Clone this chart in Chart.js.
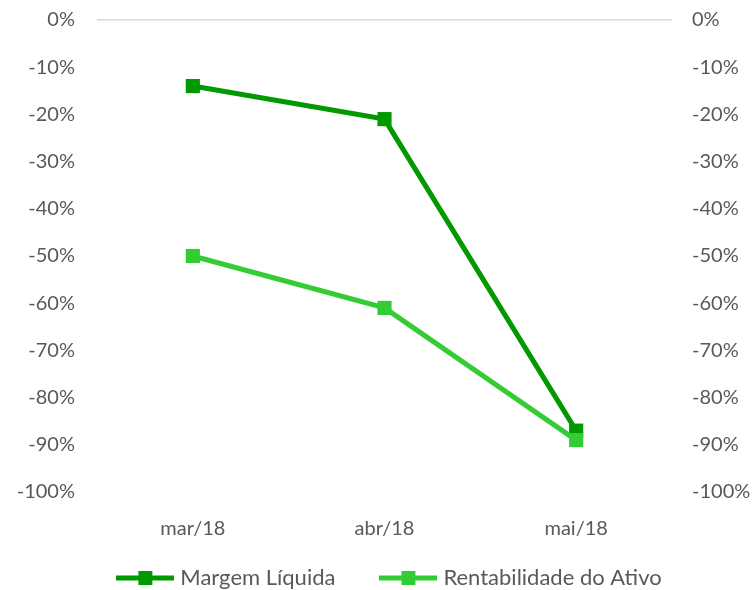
<!DOCTYPE html>
<html>
<head>
<meta charset="utf-8">
<script src="https://cdn.jsdelivr.net/npm/chart.js@4"></script>
<style>
  html, body { margin: 0; padding: 0; background: #fff; }
  #wrap { width: 753px; height: 590px; }
</style>
</head>
<body>
<div id="wrap"><canvas id="line-chart"></canvas></div>
<script>
const categories = ["mar/18", "abr/18", "mai/18"];
const margemLiquida = [-14, -21, -87];
const rentabilidadeAtivo = [-50, -61, -89];
const seriesNames = ["Margem Líquida", "Rentabilidade do Ativo"];
const seriesColors = ["#009900", "#33cc33"];

const textColor = "#595959";
const font = { family: "Lato, 'Open Sans', sans-serif", size: 20 };
const legendFont = { family: "Lato, 'Open Sans', sans-serif", size: 22 };

// legend icon: a short line with a square in the middle
const makeIcon = (color) => {
  const c = document.createElement("canvas");
  c.width = 58;
  c.height = 16;
  const ctx = c.getContext("2d");
  ctx.fillStyle = color;
  ctx.fillRect(0, 5.5, 58, 5);
  ctx.fillRect(22, 1, 14, 14);
  return c;
};

// move the legend a bit, like the original
const legendShift = {
  id: "legendShift",
  afterLayout(chart) {
    const lg = chart.legend;
    lg.left += 15;
    lg.right += 15;
    lg.top = 518;
  },
};

const pctTick = (v) => v + "%";

const yFit = (w) => (scale) => {
  scale.width = w;
  scale.paddingTop = 0;
  scale.paddingBottom = 0;
};

new Chart(document.getElementById("line-chart"), {
  type: "line",
  data: {
    labels: categories,
    datasets: [
      {
        label: seriesNames[0],
        data: margemLiquida,
        borderColor: seriesColors[0],
        backgroundColor: seriesColors[0],
        borderWidth: 5,
        pointStyle: "rect",
        pointRadius: 10,
        pointHoverRadius: 10,
        pointBorderWidth: 0,
        order: 1,
      },
      {
        label: seriesNames[1],
        data: rentabilidadeAtivo,
        borderColor: seriesColors[1],
        backgroundColor: seriesColors[1],
        borderWidth: 5,
        pointStyle: "rect",
        pointRadius: 10,
        pointHoverRadius: 10,
        pointBorderWidth: 0,
        order: 0,
      },
    ],
  },
  options: {
    responsive: true,
    maintainAspectRatio: false,
    animation: false,
    layout: { padding: { top: 20, left: 0, right: 0, bottom: 0 } },
    plugins: {
      tooltip: { enabled: false },
      legend: {
        position: "bottom",
        maxHeight: 50,
        labels: {
          usePointStyle: true,
          pointStyleWidth: 48,
          padding: 49,
          color: textColor,
          font: legendFont,
          generateLabels: (chart) =>
            chart.data.datasets.map((ds, i) => ({
              text: ds.label,
              pointStyle: makeIcon(seriesColors[i]),
              fontColor: textColor,
              lineWidth: 0,
              datasetIndex: i,
              hidden: false,
            })),
        },
      },
    },
    scales: {
      x: {
        offset: true,
        grid: { display: false, offset: true },
        border: { display: false },
        ticks: { color: textColor, font: font, padding: 17, maxRotation: 0 },
        afterFit: (scale) => {
          scale.height = 48;
        },
      },
      y: {
        position: "left",
        min: -100,
        max: 0,
        border: { display: false },
        grid: {
          drawTicks: false,
          lineWidth: 1.5,
          color: (ctx) => (ctx.tick && ctx.tick.value === 0 ? "#d9d9d9" : "rgba(0,0,0,0)"),
        },
        ticks: { stepSize: 10, color: textColor, font: font, padding: 22, callback: pctTick },
        afterFit: yFit(97),
      },
      y2: {
        position: "right",
        min: -100,
        max: 0,
        border: { display: false },
        grid: { display: false, drawTicks: false },
        ticks: { stepSize: 10, color: textColor, font: font, padding: 20, callback: pctTick },
        afterFit: yFit(81),
      },
    },
  },
  plugins: [legendShift],
});
</script>
</body>
</html>
